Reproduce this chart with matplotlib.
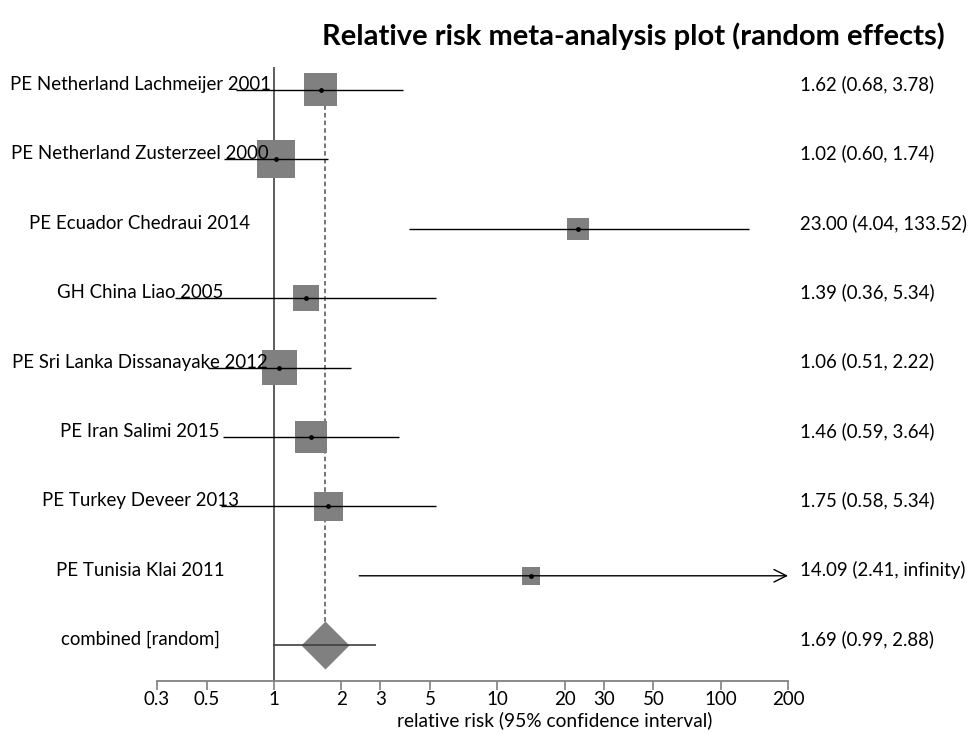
import numpy as np
import matplotlib
matplotlib.use("Agg")
import matplotlib.pyplot as plt
from matplotlib.transforms import blended_transform_factory

plt.rcParams['font.family'] = ['Lato', 'DejaVu Sans']

# data
studies = ["PE Netherland Lachmeijer 2001", "PE Netherland Zusterzeel 2000",
           "PE Ecuador Chedraui 2014", "GH China Liao 2005",
           "PE Sri Lanka Dissanayake 2012", "PE Iran Salimi 2015",
           "PE Turkey Deveer 2013", "PE Tunisia Klai 2011"]
rr = [1.62, 1.02, 23.00, 1.39, 1.06, 1.46, 1.75, 14.09]
lo = [0.68, 0.60, 4.04, 0.36, 0.51, 0.59, 0.58, 2.41]
hi = [3.78, 1.74, 133.52, 5.34, 2.22, 3.64, 5.34, np.inf]
ci_text = ["1.62 (0.68, 3.78)", "1.02 (0.60, 1.74)", "23.00 (4.04, 133.52)",
           "1.39 (0.36, 5.34)", "1.06 (0.51, 2.22)", "1.46 (0.59, 3.64)",
           "1.75 (0.58, 5.34)", "14.09 (2.41, infinity)"]
weights = [15.3, 20.3, 6.8, 9.5, 17.2, 14.4, 11.8, 4.6]  # % (box area)
comb_label = "combined [random]"
comb_rr, comb_lo, comb_hi = 1.69, 0.99, 2.88
comb_text = "1.69 (0.99, 2.88)"
ticks = [0.3, 0.5, 1, 2, 3, 5, 10, 20, 30, 50, 100, 200]
tick_labels = ["0.3", "0.5", "1", "2", "3", "5", "10", "20", "30", "50", "100", "200"]

W, H = 971, 734
fig = plt.figure(figsize=(W / 100, H / 100), dpi=100)
ax = fig.add_axes([157 / W, 53 / H, 631 / W, 614 / H])
ax.set_xscale('log')
ax.set_xlim(ticks[0], ticks[-1])
n = len(studies)
ypos = np.arange(1, n + 1)
comb_y = n + 1
ax.set_ylim(comb_y + 0.516, 0.669)

for s in ['top', 'left', 'right']:
    ax.spines[s].set_visible(False)
ax.spines['bottom'].set_color('#808080')
ax.spines['bottom'].set_linewidth(1.3)
ax.set_yticks([])
ax.set_xticks(ticks)
ax.set_xticklabels(tick_labels)
ax.xaxis.set_minor_locator(matplotlib.ticker.NullLocator())
ax.tick_params(axis='x', direction='out', length=6.5, width=1.2, color='#808080',
               labelsize=13.5, pad=1.0)

# reference lines
ax.axvline(1, color='#505050', lw=1.3, zorder=1)
ax.vlines(comb_rr, ypos[0], comb_y - 0.33, color='#505050', lw=1.1,
          linestyles=(0, (3, 2)), zorder=1)

# boxes
sizes = [36.9 * w for w in weights]
ax.scatter(rr, ypos, s=sizes, marker='s', color='#808080', linewidths=0, zorder=2)

# confidence intervals
for y, l, h in zip(ypos, lo, hi):
    if np.isinf(h):
        ax.annotate("", xy=(ticks[-1], y), xytext=(l, y), annotation_clip=False,
                    arrowprops=dict(arrowstyle='->, head_length=0.9, head_width=0.45',
                                    color='black', lw=1.0, shrinkA=0, shrinkB=0),
                    zorder=3)
    else:
        ax.hlines(y, l, h, color='black', lw=1.0, zorder=3, clip_on=False)
ax.scatter(rr, ypos, s=6, color='black', zorder=4)

# combined
ax.scatter([comb_rr], [comb_y], s=597, marker='D', color='#808080', linewidths=0, zorder=2)
ax.hlines(comb_y, comb_lo, comb_hi, color='#404040', lw=1.2, zorder=3)

# text columns
fs = 13.4
tr = blended_transform_factory(fig.transFigure, ax.transData)
for y, name, txt in zip(ypos, studies, ci_text):
    ax.text(140 / W, y, name, transform=tr, ha='center', va='baseline', fontsize=fs,
            clip_on=False, zorder=2.5)
    ax.text(800 / W, y, txt, transform=tr, ha='left', va='baseline', fontsize=fs,
            clip_on=False)
ax.text(140 / W, comb_y, comb_label, transform=tr, ha='center', va='baseline',
        fontsize=fs, clip_on=False)
ax.text(800 / W, comb_y, comb_text, transform=tr, ha='left', va='baseline',
        fontsize=fs, clip_on=False)

fig.text(555 / W, 1 - 720 / H, "relative risk (95% confidence interval)",
         ha='center', va='center', fontsize=13.8)
fig.text(633 / W, 1 - 36 / H, "Relative risk meta-analysis plot (random effects)",
         ha='center', va='center', fontsize=21, fontweight='bold')

fig.savefig("out.png", dpi=100)
